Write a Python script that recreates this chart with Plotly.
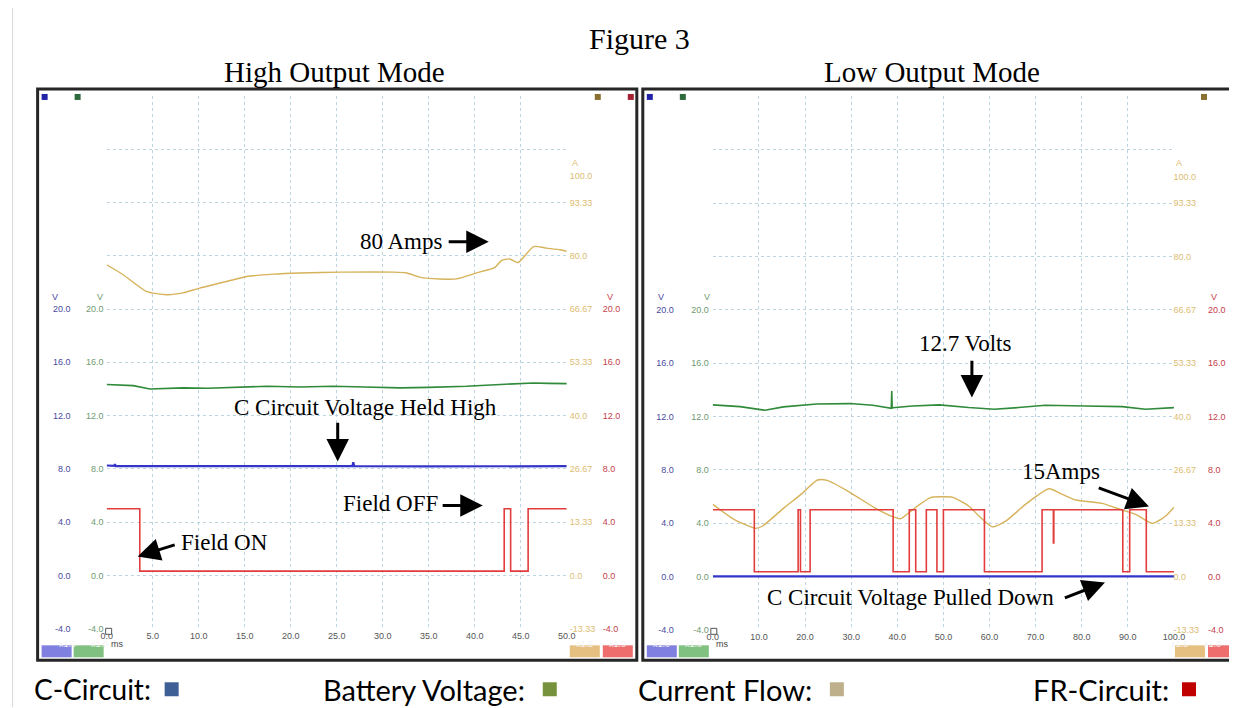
import plotly.graph_objects as go

W, H = 1237, 708
M = 8  # default page body margin
FW, FH = 1241, 700
SX, OX, SY = 0.986, 5.5, 0.994  # observed page -> picture mapping

# ---------------- DATA ----------------
# High Output Mode (0-50 ms)
hi_t_current = [0, 1.8, 4.3, 6.5, 8.3, 10.1, 13.8, 15.2, 18.1, 21.0, 25.4, 31.2, 32.6, 34.1, 36.2,
                38.0, 40.2, 42.2, 42.9, 43.8, 44.7, 46.4, 47.8, 49.3, 50.0]
hi_current = [77.75, 75.25, 71.1, 70.25, 70.7, 71.9, 74.0, 74.8, 75.4, 75.7, 75.9, 75.9, 75.7, 74.6, 74.2,
              74.2, 75.7, 77.1, 78.8, 79.2, 78.3, 82.3, 81.9, 81.5, 81.1]
hi_t_batt = [0, 1.5, 2.9, 4.7, 6.0, 8.3, 11.0, 13.8, 17.4, 21.0, 24.6, 28.0, 31.9, 35.0, 39.1, 42.8, 44.5, 46.4, 48.0, 50.0]
hi_batt = [14.33, 14.3, 14.25, 14.0, 14.02, 14.08, 14.05, 14.1, 14.2, 14.15, 14.2, 14.15, 14.08, 14.12, 14.2, 14.33, 14.38, 14.45, 14.42, 14.4]
hi_t_c = [0, 0.8, 0.9, 1.0, 10.0, 20.0, 26.7, 26.8, 26.9, 35.0, 45.0, 50.0]
hi_c = [8.25, 8.22, 8.35, 8.2, 8.2, 8.18, 8.2, 8.5, 8.2, 8.18, 8.2, 8.2]
hi_t_fr = [0, 3.6, 43.2, 43.9, 45.8, 50.0]
hi_fr = [5.0, 0.32, 5.0, 0.32, 5.0, 5.0]

# Low Output Mode (0-100 ms)
lo_t_current = [0, 4.6, 9.3, 10.8, 15.5, 19.1, 22.7, 24.8, 29.9, 35.0, 39.1, 40.7, 42.5, 44.4, 47.2, 49.4,
                51.9, 55.5, 57.7, 60.6, 63.5, 67.8, 72.9, 75.8, 78.7, 84.4, 88.8, 91.7, 95.3, 98.2, 100.0]
lo_current = [18.0, 14.25, 12.0, 12.6, 17.2, 20.5, 24.1, 24.0, 20.9, 17.2, 14.9, 14.4, 15.9, 17.6, 19.7, 19.9,
              19.8, 17.6, 15.1, 12.4, 13.8, 18.0, 21.9, 20.5, 19.1, 18.25, 16.6, 15.5, 13.25, 15.1, 17.3]
lo_t_batt = [0, 5.9, 11.3, 15.3, 22.5, 29.7, 34.7, 38.7, 38.8, 38.9, 39.0, 43.3, 49.1, 55.5, 61.0, 66.3,
             72.1, 80.8, 88.8, 93.8, 100.0]
lo_batt = [12.86, 12.73, 12.46, 12.71, 12.93, 12.96, 12.83, 12.6, 13.9, 12.6, 12.65, 12.78, 12.86, 12.66, 12.53, 12.66,
           12.83, 12.78, 12.73, 12.53, 12.66]
lo_t_c = [0, 100.0]
lo_c = [0.0, 0.0]
lo_t_fr = [0, 9.0, 18.5, 19.0, 21.1, 39.1, 42.6, 44.0, 46.3, 48.6, 50.0, 58.9, 71.4, 73.85, 73.95,
           88.9, 90.4, 94.0, 100.0]
lo_fr = [5.0, 0.35, 5.0, 0.35, 5.0, 0.35, 5.0, 0.35, 5.0, 0.35, 5.0, 0.35, 5.0, 2.5, 5.0,
         0.35, 5.0, 0.35, 0.35]

# Axis labels
volt_ticks = [-4, 0, 4, 8, 12, 16, 20]
volt_text = ["-4.0", "0.0", "4.0", "8.0", "12.0", "16.0", "20.0"]
grid_volts = [-4, 0, 4, 8, 12, 16, 20, 24, 28, 32, 36]
grid_text = volt_text + ["", "", "", ""]
amp_ticks = [-13.333, 0, 13.333, 26.667, 40, 53.333, 66.667, 80, 93.333, 100]
amp_text = ["-13.33", "0.0", "13.33", "26.67", "40.0", "53.33", "66.67", "80.0", "93.33", "100.0"]
hi_x_ticks = [0, 5, 10, 15, 20, 25, 30, 35, 40, 45, 50]
lo_x_ticks = [0, 10, 20, 30, 40, 50, 60, 70, 80, 90, 100]
legend_labels = ["C-Circuit:", "Battery Voltage:", "Current Flow:", "FR-Circuit:"]
legend_colors = ["#3d5f95", "#76923c", "#bdb08a", "#c00000"]

# ---------------- STYLE ----------------
C_BLUE, C_GREEN, C_TAN, C_RED = "#3434c8", "#2f8a3a", "#d6b25a", "#e23c3c"
L_BLUE, L_GREEN, L_TAN, L_RED = "#4a4aa0", "#6f9a70", "#dcbc72", "#c4404c"
GRID = "rgba(178,204,220,0.85)"
VR = [-4, 36]
AR = [-13.3333, 120]


def px(x):
    return ((x - OX) / SX - M) / FW


def py(y):
    return 1 - (y / SY - M) / FH


fig = go.Figure()

panels = [
    dict(xs=(106, 566), ys=(629.3, 96), xmax=50, xt=hi_x_ticks, lab=(70, 568, 601), gstand=2,
         tc=hi_t_current, cu=hi_current, tb=hi_t_batt, ba=hi_batt, tcc=hi_t_c, cc=hi_c, tf=hi_t_fr, fr=hi_fr),
    dict(xs=(712, 1173), ys=(630.4, 96.4), xmax=100, xt=lo_x_ticks, lab=(673, 1171.5, 1206), gstand=3,
         tc=lo_t_current, cu=lo_current, tb=lo_t_batt, ba=lo_batt, tcc=lo_t_c, cc=lo_c, tf=lo_t_fr, fr=lo_fr),
]

tickfont = dict(family="Liberation Sans, Arial", size=9)
layout = {}
for i, p in enumerate(panels):
    xn = "x" if i == 0 else "x2"
    xk = "xaxis" if i == 0 else "xaxis2"
    base = 1 + 4 * i
    ynames = ["y" if base == 1 else f"y{base}"] + [f"y{base + k}" for k in range(1, 4)]
    ykeys = [("yaxis" if n == "y" else "yaxis" + n[1:]) for n in ynames]
    xdom = [px(p["xs"][0]), px(p["xs"][1])]
    ydom = [py(p["ys"][0]), py(p["ys"][1])]
    layout[xk] = dict(domain=xdom, range=[0, p["xmax"]], anchor=ynames[0],
                      tickvals=p["xt"], ticktext=[f"{v:.1f}" for v in p["xt"]],
                      tickfont=dict(color="#555555", **tickfont), ticks="",
                      showgrid=True, gridcolor=GRID, griddash="dot", gridwidth=1,
                      zeroline=False, showline=False)
    # main axis: grid + battery-voltage (green) labels
    layout[ykeys[0]] = dict(domain=ydom, range=VR, anchor=xn, side="left", tickvals=grid_volts, ticktext=grid_text,
                            tickfont=dict(color=L_GREEN, **tickfont), ticks="", ticklabelstandoff=p["gstand"],
                            showgrid=True, gridcolor=GRID, griddash="dot", gridwidth=1,
                            zeroline=False, showline=False)
    bl, tl, rl = p["lab"]
    common = dict(overlaying=ynames[0], anchor="free", showgrid=False, zeroline=False, ticks="", showline=False)
    layout[ykeys[1]] = dict(range=VR, position=px(bl), side="left", tickvals=volt_ticks, ticktext=volt_text,
                            tickfont=dict(color=L_BLUE, **tickfont), **common)
    layout[ykeys[2]] = dict(range=AR, position=px(tl), side="right", tickvals=amp_ticks, ticktext=amp_text,
                            tickfont=dict(color=L_TAN, **tickfont), **common)
    layout[ykeys[3]] = dict(range=VR, position=px(rl), side="right", tickvals=volt_ticks, ticktext=volt_text,
                            tickfont=dict(color=L_RED, **tickfont), **common)

    fig.add_trace(go.Scatter(x=p["tb"], y=p["ba"], xaxis=xn, yaxis=ynames[0], mode="lines",
                             line=dict(color=C_GREEN, width=1.6), showlegend=False, hoverinfo="skip"))
    fig.add_trace(go.Scatter(x=p["tcc"], y=p["cc"], xaxis=xn, yaxis=ynames[1], mode="lines",
                             line=dict(color=C_BLUE, width=2.2), showlegend=False, hoverinfo="skip"))
    fig.add_trace(go.Scatter(x=p["tf"], y=p["fr"], xaxis=xn, yaxis=ynames[3], mode="lines",
                             line=dict(color=C_RED, width=1.6, shape="hv"), showlegend=False, hoverinfo="skip"))
    fig.add_trace(go.Scatter(x=p["tc"], y=p["cu"], xaxis=xn, yaxis=ynames[2], mode="lines",
                             line=dict(color=C_TAN, width=1.4, shape="spline", smoothing=0.6),
                             showlegend=False, hoverinfo="skip"))

annotations = []
shapes = []

# unit labels (picture pixel positions of the label columns)
for (bv, gv, av, rv) in [(54, 99, 569, 609), (660, 706, 1173, 1213)]:
    for xx, col in [(bv, L_BLUE), (gv, L_GREEN)]:
        annotations.append(dict(x=px(xx), y=py(297), xref="paper", yref="paper", text="V", showarrow=False,
                                font=dict(color=col, **tickfont), xanchor="center", yanchor="middle"))
    annotations.append(dict(x=px(av), y=py(163), xref="paper", yref="paper", text="A", showarrow=False,
                            font=dict(color=L_TAN, **tickfont), xanchor="left", yanchor="middle"))
    annotations.append(dict(x=px(rv), y=py(297), xref="paper", yref="paper", text="V", showarrow=False,
                            font=dict(color=L_RED, **tickfont), xanchor="center", yanchor="middle"))

# frames
shapes.append(dict(type="rect", xref="paper", yref="paper", x0=px(37), x1=px(636), y0=py(661), y1=py(89),
                   line=dict(color="#262626", width=3)))
shapes.append(dict(type="rect", xref="paper", yref="paper", x0=px(642), x1=px(1250), y0=py(661), y1=py(89),
                   line=dict(color="#262626", width=3)))
shapes.append(dict(type="line", xref="paper", yref="paper", x0=px(12), x1=px(12), y0=py(708), y1=py(0),
                   line=dict(color="#d8d8d8", width=1)))

# corner markers
for xx, col in [(44, "#2222a8"), (77, "#2d6b3c"), (597, "#8a7030"), (630, "#a52030"),
                (649, "#2222a8"), (682, "#2d6b3c"), (1203, "#8a7030"), (1234, "#a52030")]:
    shapes.append(dict(type="rect", xref="paper", yref="paper", x0=px(xx - 3), x1=px(xx + 3),
                       y0=py(100), y1=py(94), line=dict(width=0), fillcolor=col))

# bottom badges
for x0, col, txt in [(41, "#8080e0", "x1.0"), (73, "#80c080", "x1.0"), (569, "#e6c080", "x1.5"), (602, "#ee6e6e", "x1.0"),
                     (646, "#8080e0", "x1.0"), (678, "#80c080", "x1.0"), (1174, "#e6c080", "x1.5"), (1207, "#ee6e6e", "x1.0")]:
    shapes.append(dict(type="rect", xref="paper", yref="paper", x0=px(x0), x1=px(x0 + 30),
                       y0=py(658), y1=py(646), line=dict(width=0), fillcolor=col))
    annotations.append(dict(x=px(x0 + 15), y=py(652), xref="paper", yref="paper", text=txt, showarrow=False,
                            font=dict(color="#f4f4f4", family="Liberation Sans, Arial", size=9)))
for x0 in [108, 713]:
    annotations.append(dict(x=px(x0), y=py(652), xref="paper", yref="paper", text="ms", showarrow=False,
                            xanchor="left", font=dict(color="#444444", family="Liberation Sans, Arial", size=9)))
    shapes.append(dict(type="rect", xref="paper", yref="paper", x0=px(x0 - 3), x1=px(x0 + 3),
                       y0=py(635), y1=py(629), line=dict(color="#555555", width=1), fillcolor="white"))

SERIF = "Liberation Serif, Times New Roman, serif"
for txt, xx, yy, sz in [("Figure 3", 639, 38, 30), ("High Output Mode", 334, 72, 29), ("Low Output Mode", 931, 72, 29)]:
    annotations.append(dict(x=px(xx), y=py(yy), xref="paper", yref="paper", text=txt, showarrow=False,
                            font=dict(family=SERIF, size=sz, color="black"), xanchor="center", yanchor="middle"))

for txt, xx, yy in [("80 Amps", 400, 242), ("C Circuit Voltage Held High", 365, 408), ("Field OFF", 390, 504),
                    ("Field ON", 224, 543), ("12.7 Volts", 965, 344), ("15Amps", 1060, 472),
                    ("C Circuit Voltage Pulled Down", 910, 598)]:
    annotations.append(dict(x=px(xx), y=py(yy), xref="paper", yref="paper", text=txt, showarrow=False,
                            font=dict(family=SERIF, size=23, color="black"), xanchor="center", yanchor="middle"))

# arrows (head, tail) in picture pixels
for (hx, hy), (tx, ty) in [((488, 242), (447, 242)), ((337, 462), (337, 422)), ((482, 506), (441, 506)),
                           ((137, 557), (175, 545)), ((971, 398), (971, 360)), ((1148, 507), (1097, 488)),
                           ((1104, 583), (1063, 599))]:
    annotations.append(dict(x=px(hx), y=py(hy), xref="paper", yref="paper", ax=(tx - hx) / SX, ay=(ty - hy) / SY,
                            axref="pixel", ayref="pixel", text="", showarrow=True, arrowhead=2,
                            arrowsize=1.5, arrowwidth=3, arrowcolor="black"))

for txt, col, xx, sz in zip(legend_labels, legend_colors, [31, 320, 635, 1030], [28, 29, 29, 29]):
    annotations.append(dict(x=px(xx), y=py(690), xref="paper", yref="paper", text=txt, showarrow=False,
                            xanchor="left", yanchor="middle", font=dict(family="Lato, Noto Sans", size=sz, color="black")))
for col, xx in zip(legend_colors, [164, 542, 829, 1181]):
    shapes.append(dict(type="rect", xref="paper", yref="paper", x0=px(xx), x1=px(xx + 14),
                       y0=py(697), y1=py(683), line=dict(width=0), fillcolor=col))

fig.update_layout(width=FW, height=FH, margin=dict(l=0, r=0, t=0, b=0), paper_bgcolor="white",
                  plot_bgcolor="white", showlegend=False, annotations=annotations, shapes=shapes, **layout)
fig.write_html("out.html")
